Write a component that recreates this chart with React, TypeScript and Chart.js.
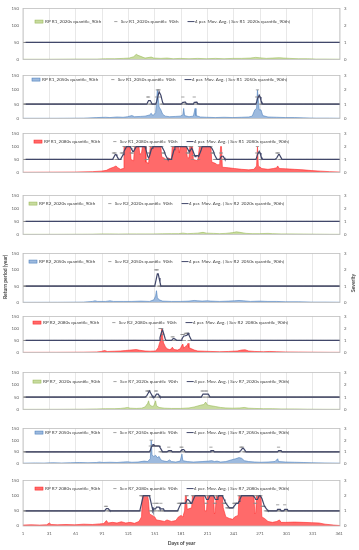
import React, { useEffect, useRef } from "react";
import { Chart, registerables } from "chart.js";

Chart.register(...registerables);

const FONT = "Lato, 'Liberation Sans', sans-serif";
Chart.defaults.font.family = FONT;

const YEAR_DAYS = 365;
const X_MAX = 362;
const X_TICKS = [1, 31, 61, 91, 121, 151, 181, 211, 241, 271, 301, 331, 361];
const RP_TICKS = [0, 50, 100, 150];
const SEV_TICKS = [0, 1, 2, 3];

// Return period (year): [day, value]
const rpR1_2020 = [[1,0.5],[30,0.5],[60,1],[85,1],[95,2],[105,2],[115,3],[122,4],[127,8],[130,15],[132,12],[135,9],[140,4],[147,7],[150,4],[158,3],[165,4],[172,2],[180,3],[190,2],[200,3],[210,2],[220,3],[230,2],[240,3],[250,3],[260,4],[266,6],[270,5],[278,3],[285,4],[293,5],[298,4],[305,3],[315,2],[325,2],[335,1],[345,1],[365,0.5]];
const rpR1_2050 = [[1,0.5],[40,0.5],[70,1],[85,3],[95,4],[100,3],[108,5],[115,4],[120,6],[125,10],[128,6],[135,7],[140,8],[145,12],[147,18],[149,10],[152,20],[154,100],[156,40],[158,30],[160,15],[163,8],[168,6],[175,7],[180,8],[183,12],[184,35],[185,10],[190,6],[195,8],[197,35],[198,10],[203,5],[210,4],[220,3],[230,4],[240,3],[250,4],[258,5],[262,8],[265,30],[267,35],[268,100],[270,30],[272,30],[274,10],[280,5],[290,4],[300,3],[310,3],[320,2],[335,1],[350,1],[365,0.5]];
const rpR1_2080 = [[1,0.5],[30,1],[60,1.5],[80,3],[90,5],[96,8],[100,15],[104,20],[107,25],[109,18],[112,12],[115,15],[116,100],[123,100],[124,50],[127,45],[128,100],[133,100],[134,70],[136,75],[137,100],[140,100],[141,40],[144,35],[146,100],[158,100],[159,60],[162,55],[164,50],[167,55],[170,50],[171,100],[178,100],[179,75],[180,100],[187,100],[188,60],[190,55],[191,100],[194,100],[195,50],[200,45],[202,100],[215,100],[216,40],[220,35],[222,30],[225,30],[226,100],[227,100],[228,20],[235,18],[242,15],[250,12],[258,10],[264,12],[267,25],[268,100],[269,25],[273,15],[280,12],[286,15],[290,18],[291,25],[293,15],[300,14],[310,12],[320,10],[330,7],[340,5],[350,3],[365,1]];
const rpR2_2020 = [[1,0.3],[40,0.5],[80,1],[90,2],[100,2],[110,1.5],[120,2],[130,2],[140,2],[150,2],[160,2.5],[170,3],[178,3],[183,5],[188,3],[195,4],[200,5],[206,8],[210,5],[218,4],[225,3],[232,4],[240,7],[244,10],[248,8],[255,4],[262,3],[270,3],[280,4],[285,3],[295,2],[305,2],[320,1.5],[335,1],[350,0.5],[365,0.3]];
const rpR2_2050 = [[1,0.3],[40,0.5],[70,1],[80,3],[83,5],[86,3],[95,3],[100,5],[104,3],[115,3],[125,3],[135,4],[145,3],[150,8],[152,20],[153,36],[154,15],[156,8],[160,4],[170,3],[180,3],[190,4],[196,6],[200,5],[205,4],[211,5],[215,4],[225,3],[235,4],[242,5],[247,6],[252,5],[260,3],[270,4],[280,3],[290,3],[300,2],[315,2],[330,1],[345,1],[365,0.5]];
const rpR2_2080 = [[1,0.3],[40,0.5],[70,1],[85,2],[90,4],[94,8],[97,4],[105,5],[112,6],[118,8],[124,10],[130,12],[134,9],[140,6],[146,5],[152,6],[155,20],[157,45],[158,60],[159,100],[160,65],[161,40],[163,25],[165,15],[168,12],[170,15],[171,22],[173,12],[177,10],[180,15],[182,30],[183,35],[184,18],[186,25],[188,30],[189,38],[190,20],[193,15],[196,10],[200,6],[208,5],[215,4],[225,3],[235,4],[245,6],[250,10],[254,11],[258,6],[265,4],[275,3],[282,4],[290,3],[300,2],[315,1.5],[330,1],[350,0.5],[365,0.3]];
const rpR7_2020 = [[1,0.3],[40,0.5],[70,1],[85,2],[95,3],[105,3],[112,4],[117,6],[120,8],[123,5],[130,4],[136,5],[140,10],[143,25],[144,35],[145,20],[148,12],[150,15],[152,35],[153,15],[156,8],[162,5],[170,4],[180,4],[190,6],[196,10],[200,14],[204,18],[207,20],[209,30],[211,18],[215,15],[220,12],[226,8],[232,6],[240,5],[248,6],[253,8],[258,5],[265,4],[275,3],[285,3],[295,2],[310,2],[325,1],[345,0.5],[365,0.3]];
const rpR7_2050 = [[1,1],[15,2],[25,1.5],[35,3],[45,2],[55,3],[65,4],[75,3],[85,4],[88,6],[92,4],[100,5],[108,4],[115,6],[120,7],[125,5],[132,6],[139,10],[143,8],[146,20],[147,100],[148,35],[150,30],[152,35],[154,25],[156,30],[158,15],[160,12],[162,10],[165,8],[168,15],[170,8],[175,6],[180,10],[182,40],[183,12],[188,8],[195,6],[205,8],[212,10],[216,12],[219,8],[222,10],[226,6],[232,8],[238,15],[243,20],[247,25],[250,22],[253,12],[258,8],[265,6],[272,5],[280,6],[288,8],[291,20],[292,8],[300,6],[310,5],[320,4],[330,3],[345,2],[365,1]];
const rpR7_2080 = [[1,3],[10,4],[20,3],[28,4],[31,10],[33,5],[40,4],[50,5],[60,4],[70,6],[80,5],[88,7],[93,8],[96,18],[98,10],[103,12],[108,10],[113,14],[118,10],[123,12],[128,9],[133,15],[136,30],[137,100],[143,100],[144,80],[145,40],[148,35],[151,30],[153,20],[157,18],[162,15],[165,20],[170,15],[175,18],[178,30],[181,35],[183,30],[185,50],[186,100],[187,100],[188,55],[193,60],[194,100],[207,100],[208,50],[210,50],[211,100],[218,100],[219,40],[220,45],[221,100],[228,100],[229,60],[232,30],[236,25],[240,22],[242,30],[246,35],[247,100],[264,100],[265,40],[266,45],[267,100],[272,100],[273,30],[276,25],[280,15],[285,12],[290,15],[293,20],[295,12],[300,12],[310,13],[320,12],[330,11],[338,10],[345,6],[355,3],[365,1]];

// Severity: [fromDay, toDay, value]; the series sits at 1 on every other day
const sevR1_2020: number[][] = [];
const sevR1_2050 = [[143,144,1.5],[153,153,1.5],[154,156,2],[157,157,1.5],[183,183,1.5],[185,185,1.1],[196,196,1.5],[198,198,1.1],[267,267,1.5],[268,268,2],[269,270,1.5]];
const sevR1_2080 = [[104,106,1.5],[113,115,1.5],[116,140,2],[124,126,1.5],[144,145,1.5],[146,159,2],[160,162,1.5],[171,187,2],[188,190,1.5],[191,193,2],[195,200,1.3],[202,215,2],[216,218,1.5],[226,227,1.5],[267,267,1.5],[268,268,2],[269,270,1.5],[290,292,1.5]];
const sevR2_2020: number[][] = [];
const sevR2_2050 = [[152,154,2]];
const sevR2_2080 = [[157,159,2],[160,160,1.5],[171,172,1.3],[182,184,1.5],[186,189,1.6]];
const sevR7_2020 = [[142,145,1.5],[152,153,1.5],[205,206,1.5],[209,210,1.5]];
const sevR7_2050 = [[146,156,1.5],[147,147,2],[167,167,1.4],[181,182,1.4],[215,215,1.4],[249,251,1.4],[292,292,1.4]];
const sevR7_2080 = [[95,96,1.3],[135,145,2],[150,150,1.5],[153,154,1.5],[158,158,1.5],[178,186,1.5],[187,188,2],[189,193,1.5],[194,208,2],[209,210,1.5],[211,228,2],[219,220,1.5],[229,232,1.5],[233,240,1.2],[241,246,1.5],[247,264,2],[265,266,1.5],[267,272,2],[273,276,1.3],[291,291,1.4],[299,299,1.4]];

const PANELS = [
  { rpLabel: "RP R1_2020s quantile_90th", sevLabel: "Sev R1_2020s quantile_90th", rp: rpR1_2020, sev: sevR1_2020, scenario: 0 },
  { rpLabel: "RP R1_2050s quantile_90th", sevLabel: "Sev R1_2050s quantile_90th", rp: rpR1_2050, sev: sevR1_2050, scenario: 1 },
  { rpLabel: "RP R1_2080s quantile_90th", sevLabel: "Sev R1_2080s quantile_90th", rp: rpR1_2080, sev: sevR1_2080, scenario: 2 },
  { rpLabel: "RP R2_2020s quantile_90th", sevLabel: "Sev R2_2020s quantile_90th", rp: rpR2_2020, sev: sevR2_2020, scenario: 0 },
  { rpLabel: "RP R2_2050s quantile_90th", sevLabel: "Sev R2_2050s quantile_90th", rp: rpR2_2050, sev: sevR2_2050, scenario: 1 },
  { rpLabel: "RP R2_2080s quantile_90th", sevLabel: "Sev R2_2080s quantile_90th", rp: rpR2_2080, sev: sevR2_2080, scenario: 2 },
  { rpLabel: "RP R7_ 2020s quantile_90th", sevLabel: "Sev R7_2020s quantile_90th", rp: rpR7_2020, sev: sevR7_2020, scenario: 0 },
  { rpLabel: "RP R7 2050s quantile_90th", sevLabel: "Sev R7_2050s quantile_90th", rp: rpR7_2050, sev: sevR7_2050, scenario: 1 },
  { rpLabel: "RP R7 2080s quantile_90th", sevLabel: "Sev R7_2080s quantile_90th", rp: rpR7_2080, sev: sevR7_2080, scenario: 2 },
];

// Layout (pixels): plot-area top/bottom, legend start x and legend text offset from the top
const PANEL_FRAMES = [
  { top: 7, bottom: 61, legendX: 35, legendY: 13 },
  { top: 74, bottom: 120, legendX: 32, legendY: 4 },
  { top: 132, bottom: 174, legendX: 34, legendY: 8 },
  { top: 194, bottom: 236, legendX: 29, legendY: 8 },
  { top: 252, bottom: 304, legendX: 29, legendY: 8 },
  { top: 315, bottom: 354, legendX: 33, legendY: 6 },
  { top: 371, bottom: 411, legendX: 33, legendY: 9 },
  { top: 427, bottom: 465, legendX: 35, legendY: 4 },
  { top: 479, bottom: 526, legendX: 35, legendY: 8 },
];
const SCENARIO_STYLES = [
  { fill: "#c8dba0", line: "#9bbb59" },
  { fill: "#9dbade", line: "#4f81bd" },
  { fill: "#ff6a6a", line: "#ff2a2a" },
];
const MA_COLOR = "#41476a";
const SEV_COLOR = "#8c8c8c";
const W = 359;
const H = 550;
const PAD = 5;
const LEGEND_FONT = 4.6;

function dailySeverity(ranges: number[][]) {
  const out: { x: number; y: number }[] = [];
  for (let d = 1; d <= YEAR_DAYS; d++) {
    let v = 1;
    for (const [a, b, s] of ranges) if (d >= a && d <= b) v = s;
    out.push({ x: d, y: v });
  }
  return out;
}

function movingAverage(points: { x: number; y: number }[], period: number) {
  const out: { x: number; y: number }[] = [];
  for (let i = period - 1; i < points.length; i++) {
    let s = 0;
    for (let k = i - period + 1; k <= i; k++) s += points[k].y;
    out.push({ x: points[i].x, y: s / period });
  }
  return out;
}

const frameBorder = {
  id: "frameBorder",
  afterDatasetsDraw(chart: any) {
    const { ctx, chartArea } = chart;
    ctx.save();
    ctx.strokeStyle = "#bfbfbf";
    ctx.lineWidth = 0.8;
    ctx.strokeRect(chartArea.left, chartArea.top, chartArea.right - chartArea.left, chartArea.bottom - chartArea.top);
    ctx.restore();
  },
};

// Legend drawn inside the plot area, in a single row, from the datasets' labels and styles
const insideLegend = {
  id: "insideLegend",
  afterDatasetsDraw(chart: any, _args: any, opts: any) {
    const { ctx, chartArea } = chart;
    const ds = chart.data.datasets;
    const y = chartArea.top + opts.dy;
    let x = opts.x;
    ctx.save();
    ctx.font = `${LEGEND_FONT}px ${FONT}`;
    ctx.textBaseline = "middle";
    ctx.fillStyle = ds[0].backgroundColor;
    ctx.fillRect(x, y - 1.5, 8, 3);
    ctx.strokeStyle = ds[0].borderColor;
    ctx.lineWidth = 0.6;
    ctx.strokeRect(x, y - 1.5, 8, 3);
    ctx.fillStyle = "#404040";
    ctx.fillText(ds[0].label, x + 10, y);
    x += 10 + ctx.measureText(ds[0].label).width + 13;
    ctx.strokeStyle = ds[1].pointBorderColor;
    ctx.lineWidth = 0.8;
    ctx.beginPath();
    ctx.moveTo(x, y);
    ctx.lineTo(x + 3.2, y);
    ctx.stroke();
    ctx.fillText(ds[1].label, x + 6.5, y);
    x += 6.5 + ctx.measureText(ds[1].label).width + 9;
    ctx.strokeStyle = ds[2].borderColor;
    ctx.lineWidth = 1;
    ctx.beginPath();
    ctx.moveTo(x, y);
    ctx.lineTo(x + 7, y);
    ctx.stroke();
    ctx.fillText(ds[2].label, x + 7.5, y);
    ctx.restore();
  },
};

function Panel({ index }: { index: number }) {
  const ref = useRef<HTMLCanvasElement>(null);
  const frame = PANEL_FRAMES[index];
  const last = index === PANELS.length - 1;
  const cTop = frame.top - PAD;
  const height = last ? H - cTop : frame.bottom - frame.top + 2 * PAD;

  useEffect(() => {
    const spec = PANELS[index];
    const style = SCENARIO_STYLES[spec.scenario];
    const sev = dailySeverity(spec.sev);
    const ma = movingAverage(sev, 4);
    const tickFont = { size: 4.3, family: FONT };
    const chart = new Chart(ref.current as HTMLCanvasElement, {
      type: "line",
      data: {
        datasets: [
          {
            label: spec.rpLabel,
            data: spec.rp.map(([x, y]) => ({ x, y })),
            fill: "origin",
            backgroundColor: style.fill,
            borderColor: style.line,
            borderWidth: 0.6,
            pointRadius: 0,
            tension: 0,
            yAxisID: "y",
            order: 3,
          },
          {
            label: spec.sevLabel,
            data: sev,
            showLine: false,
            pointStyle: "line",
            pointRadius: 1.6,
            pointBorderWidth: 0.8,
            borderColor: SEV_COLOR,
            backgroundColor: SEV_COLOR,
            pointBorderColor: SEV_COLOR,
            yAxisID: "y1",
            order: 2,
          },
          {
            label: "4 per. Mov. Avg. ( " + spec.sevLabel + ")",
            data: ma,
            borderColor: MA_COLOR,
            backgroundColor: MA_COLOR,
            borderWidth: 1.2,
            pointRadius: 0,
            tension: 0,
            fill: false,
            yAxisID: "y1",
            order: 1,
          },
        ],
      } as any,
      options: {
        responsive: false,
        animation: false,
        events: [],
        layout: { padding: { top: PAD, bottom: last ? 0 : PAD, left: 0, right: 0 } },
        plugins: {
          tooltip: { enabled: false },
          legend: { display: false },
          insideLegend: { x: frame.legendX, dy: frame.legendY },
        } as any,
        scales: {
          x: {
            type: "linear",
            min: 1,
            max: X_MAX,
            afterBuildTicks: (s: any) => {
              s.ticks = X_TICKS.map((v) => ({ value: v }));
            },
            afterFit: (s: any) => {
              s.height = last ? 24 : 0;
            },
            grid: { color: "#d9d9d9", lineWidth: 0.6, drawTicks: false },
            border: { display: false },
            ticks: { display: last, font: tickFont, color: "#595959", padding: 5, autoSkip: false, maxRotation: 0 },
            title: {
              display: last,
              text: "Days of year",
              color: "#404040",
              font: { size: 5, weight: "bold", family: FONT },
              padding: { top: 0, bottom: 4 },
            },
          },
          y: {
            position: "left",
            min: 0,
            max: 150,
            afterBuildTicks: (s: any) => {
              s.ticks = RP_TICKS.map((v) => ({ value: v }));
            },
            afterFit: (s: any) => {
              s.width = 23;
            },
            grid: { display: false, drawTicks: false },
            border: { display: false },
            ticks: { font: tickFont, color: "#595959", padding: 4 },
          },
          y1: {
            position: "right",
            min: 0,
            max: 3,
            afterBuildTicks: (s: any) => {
              s.ticks = SEV_TICKS.map((v) => ({ value: v }));
            },
            afterFit: (s: any) => {
              s.width = W - 340;
            },
            grid: { display: false, drawTicks: false },
            border: { display: false },
            ticks: { font: tickFont, color: "#595959", padding: 4 },
          },
        } as any,
      },
      plugins: [frameBorder, insideLegend],
    });
    return () => chart.destroy();
  }, [index]);

  return (
    <canvas
      ref={ref}
      width={W}
      height={height}
      style={{ position: "absolute", left: 0, top: cTop, width: W, height }}
    />
  );
}

export default function App() {
  const titleStyle: React.CSSProperties = {
    position: "absolute",
    whiteSpace: "nowrap",
    fontFamily: FONT,
    fontWeight: "bold",
    fontSize: "5px",
    color: "#404040",
    transform: "translate(-50%, -50%) rotate(-90deg)",
  };
  return (
    <div style={{ position: "absolute", left: 0, top: 0, width: W, height: H, background: "#fff", overflow: "hidden" }}>
      {PANELS.map((_, i) => (
        <Panel key={i} index={i} />
      ))}
      <div style={{ ...titleStyle, left: 5, top: 277 }}>Return period (year)</div>
      <div style={{ ...titleStyle, left: 353, top: 283 }}>Severity</div>
    </div>
  );
}
